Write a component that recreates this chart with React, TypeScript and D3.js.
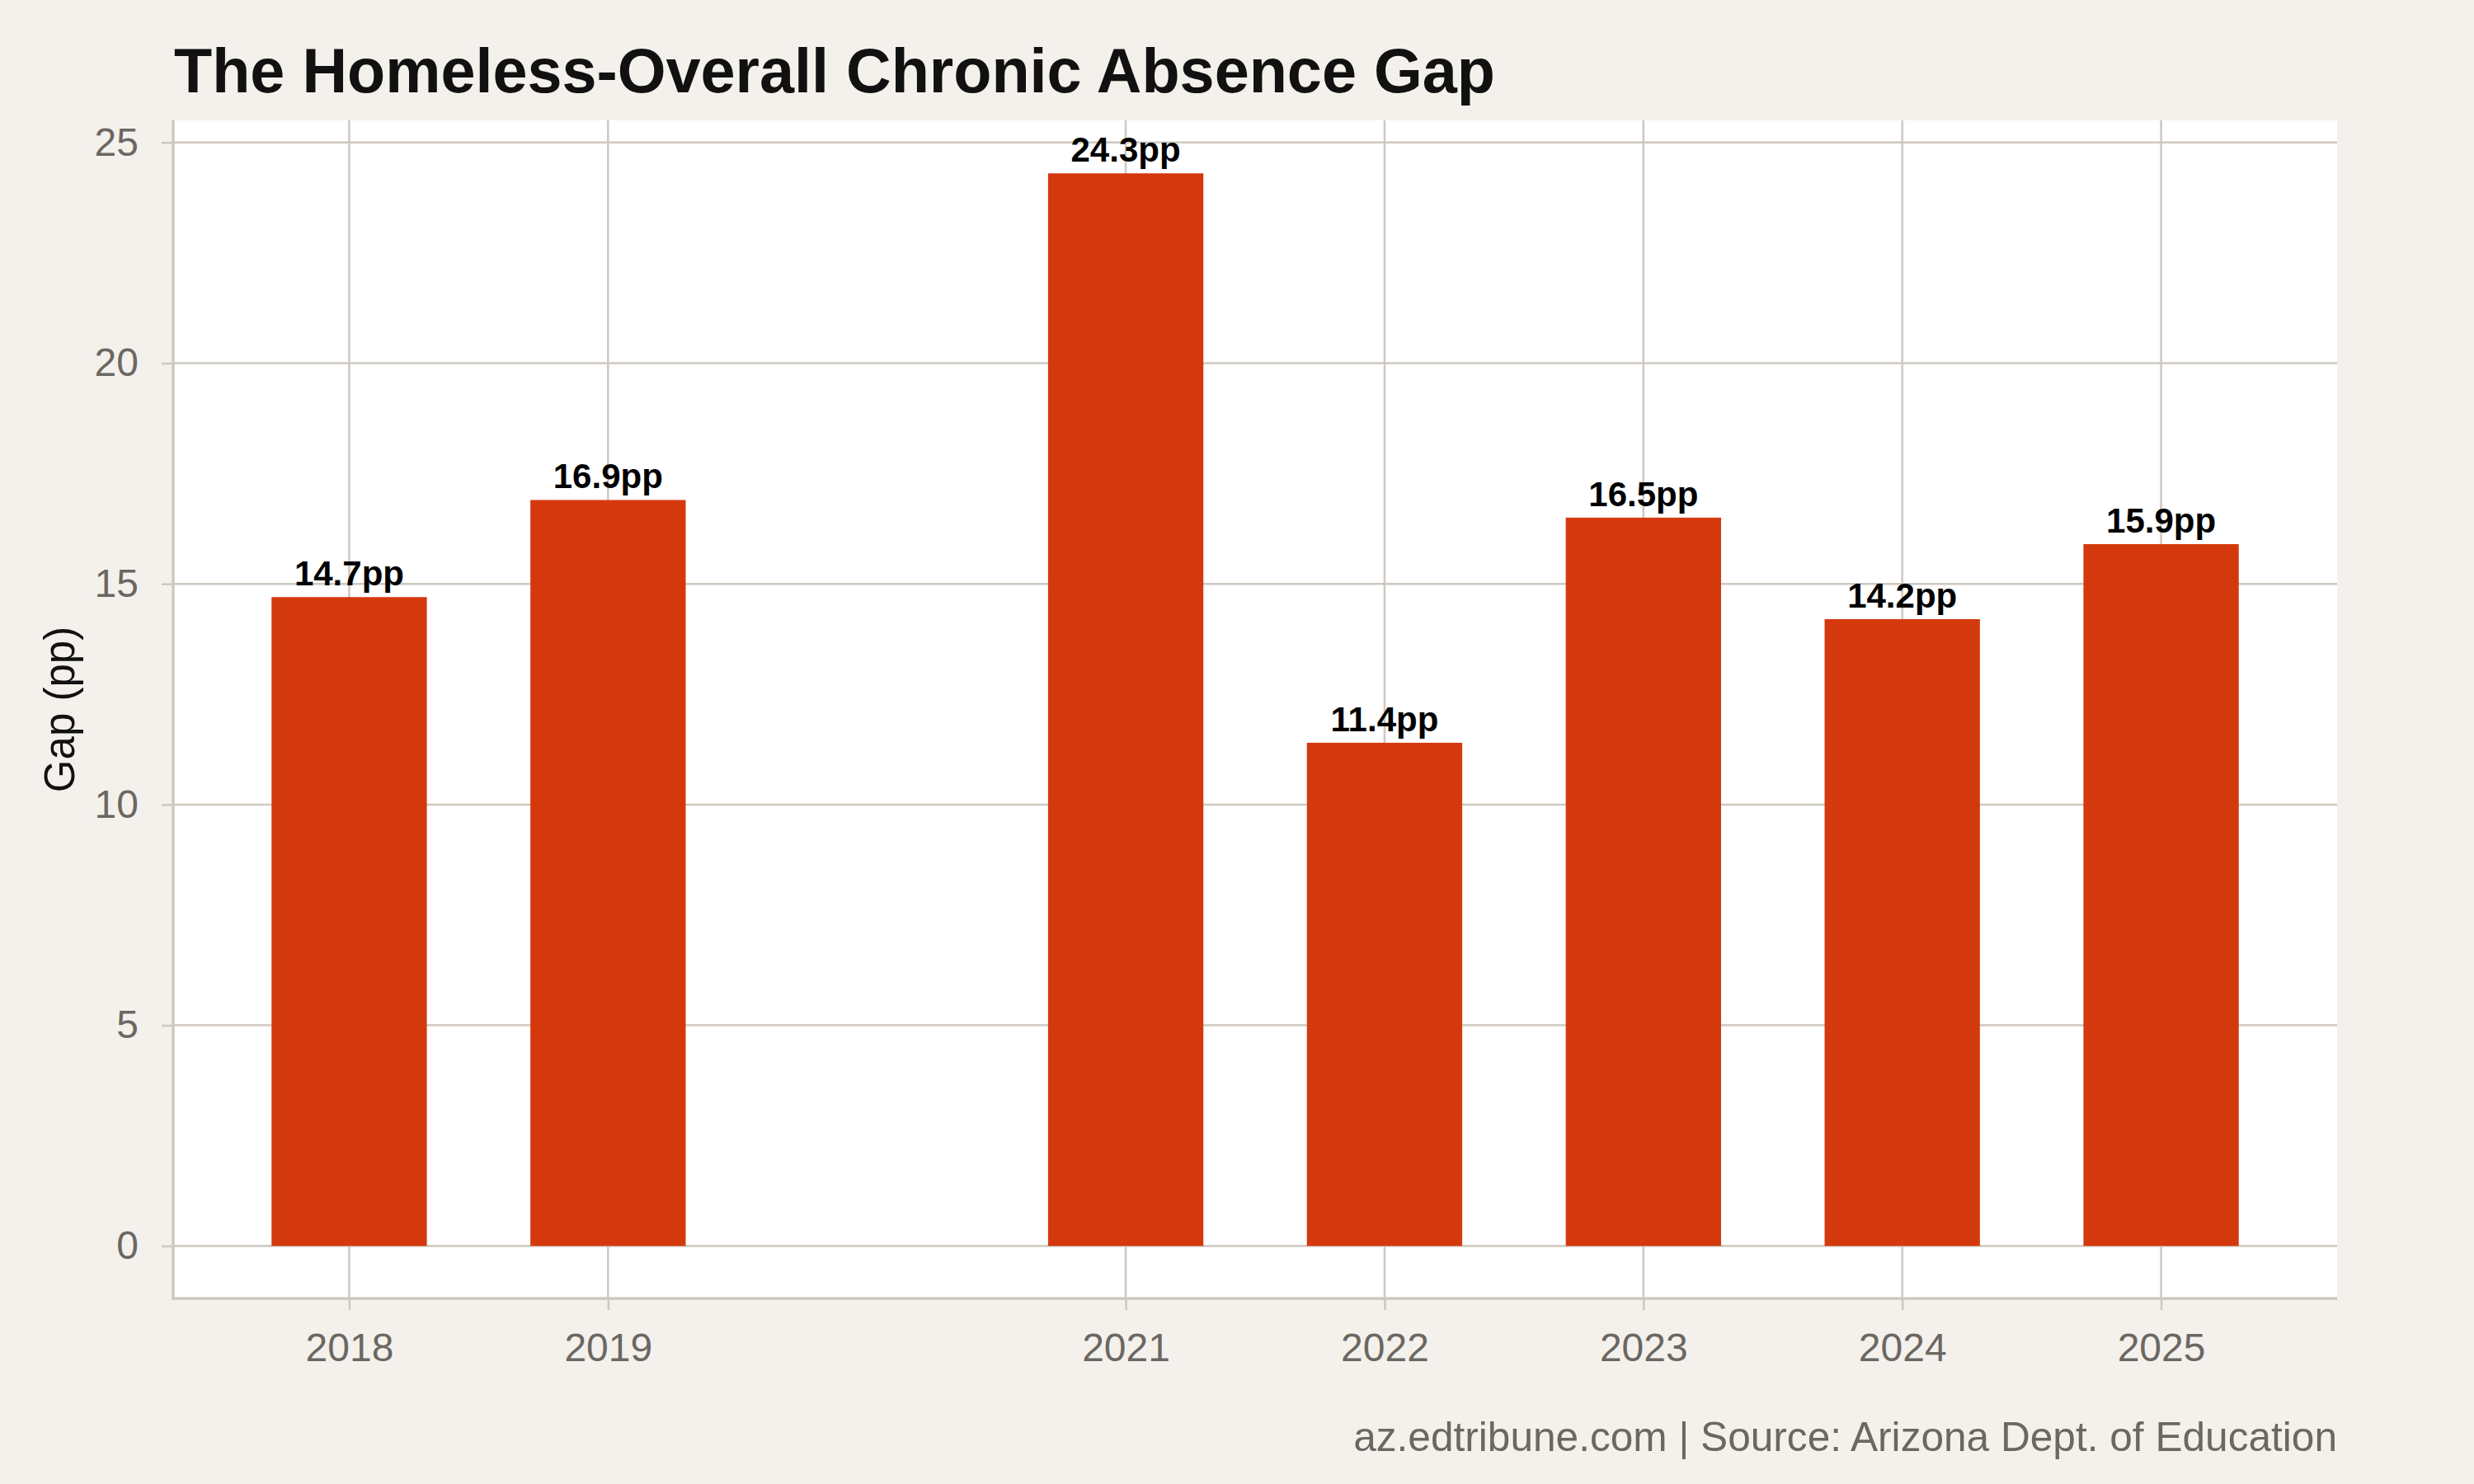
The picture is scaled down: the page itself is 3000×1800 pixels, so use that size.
import { useEffect, useRef } from 'react';
import { select, scaleLinear, axisLeft, axisBottom } from 'd3';

const years = [2018, 2019, 2021, 2022, 2023, 2024, 2025];
const gapValues = [14.7, 16.9, 24.3, 11.4, 16.5, 14.2, 15.9];
const yTicks = [0, 5, 10, 15, 20, 25];

const width = 3000;
const height = 1800;
const margin = { top: 146, right: 166, bottom: 225, left: 210 };

const BG = '#f4f1ec';
const GRID = '#cec8bf';
const BAR = '#d4390e';
const MUTED = '#6b6762';
const FONT = '"Liberation Sans", Arial, Helvetica, sans-serif';

const GapChart = () => {
  const ref = useRef<SVGSVGElement>(null);

  useEffect(() => {
    const svg = select(ref.current);
    svg.selectAll('*').remove();

    const x0 = margin.left;
    const x1 = width - margin.right;
    const y0 = height - margin.bottom;
    const y1 = margin.top;

    // years on a continuous axis, so the missing 2020 leaves a gap
    const xScale = scaleLinear().domain([2017.32, 2025.68]).range([x0, x1]);
    const yScale = scaleLinear().domain([-1.19, 25.5]).range([y0, y1]);
    const barWidth = xScale(2018.6) - xScale(2018);

    svg.append('rect').attr('width', width).attr('height', height).attr('fill', BG);

    svg
      .append('text')
      .attr('x', 211)
      .attr('y', 112)
      .attr('font-family', FONT)
      .attr('font-weight', 700)
      .attr('font-size', 75.6)
      .attr('fill', '#111')
      .text('The Homeless-Overall Chronic Absence Gap');

    svg
      .append('rect')
      .attr('x', x0)
      .attr('y', y1)
      .attr('width', x1 - x0)
      .attr('height', y0 - y1)
      .attr('fill', '#fff');

    const grid = svg.append('g');
    grid
      .selectAll('.hgrid')
      .data(yTicks)
      .join('line')
      .attr('x1', x0)
      .attr('x2', x1)
      .attr('y1', (d) => yScale(d))
      .attr('y2', (d) => yScale(d))
      .attr('stroke', GRID)
      .attr('stroke-width', 2.5);
    grid
      .selectAll('.vgrid')
      .data(years)
      .join('line')
      .attr('x1', (d) => xScale(d))
      .attr('x2', (d) => xScale(d))
      .attr('y1', y1)
      .attr('y2', y0)
      .attr('stroke', GRID)
      .attr('stroke-width', 2.5);

    svg
      .append('g')
      .selectAll('rect')
      .data(years)
      .join('rect')
      .attr('x', (d) => xScale(d) - barWidth / 2)
      .attr('y', (_, i) => yScale(gapValues[i]))
      .attr('width', barWidth)
      .attr('height', (_, i) => yScale(0) - yScale(gapValues[i]))
      .attr('fill', BAR);

    svg
      .append('g')
      .selectAll('text')
      .data(years)
      .join('text')
      .attr('x', (d) => xScale(d))
      .attr('y', (_, i) => yScale(gapValues[i]) - 14)
      .attr('text-anchor', 'middle')
      .attr('font-family', FONT)
      .attr('font-weight', 700)
      .attr('font-size', 42)
      .attr('fill', '#000')
      .text((_, i) => `${gapValues[i].toFixed(1)}pp`);

    const yAxis = axisLeft(yScale).tickValues(yTicks).tickSizeInner(14).tickSizeOuter(0).tickPadding(28);
    const gy = svg.append('g').attr('transform', `translate(${x0},0)`).call(yAxis as any);
    gy.select('.domain').remove();
    gy.selectAll('.tick line').attr('stroke', GRID).attr('stroke-width', 2.5);
    gy.selectAll('.tick text')
      .attr('font-family', FONT)
      .attr('font-size', 48)
      .attr('fill', MUTED);

    const xAxis = axisBottom(xScale).tickValues(years).tickFormat((d) => String(d)).tickSizeInner(14).tickSizeOuter(0).tickPadding(28);
    const gx = svg.append('g').attr('transform', `translate(0,${y0})`).call(xAxis as any);
    gx.select('.domain').remove();
    gx.selectAll('.tick line').attr('stroke', GRID).attr('stroke-width', 2.5);
    gx.selectAll('.tick text')
      .attr('font-family', FONT)
      .attr('font-size', 48)
      .attr('fill', MUTED);

    // axis lines along the left and bottom of the panel
    svg
      .append('path')
      .attr('d', `M${x0},${y1}V${y0}H${x1}`)
      .attr('fill', 'none')
      .attr('stroke', GRID)
      .attr('stroke-width', 3.5);

    svg
      .append('text')
      .attr('transform', `translate(90,${(y0 + y1) / 2}) rotate(-90)`)
      .attr('text-anchor', 'middle')
      .attr('font-family', FONT)
      .attr('font-size', 51)
      .attr('fill', '#111')
      .text('Gap (pp)');

    svg
      .append('text')
      .attr('x', x1)
      .attr('y', 1760)
      .attr('text-anchor', 'end')
      .attr('font-family', FONT)
      .attr('font-size', 49.6)
      .attr('fill', MUTED)
      .text('az.edtribune.com | Source: Arizona Dept. of Education');
  }, []);

  return (
    <svg
      ref={ref}
      width={width}
      height={height}
      style={{ position: 'absolute', left: 0, top: 0, display: 'block' }}
    />
  );
};

export default function App() {
  return <GapChart />;
}
